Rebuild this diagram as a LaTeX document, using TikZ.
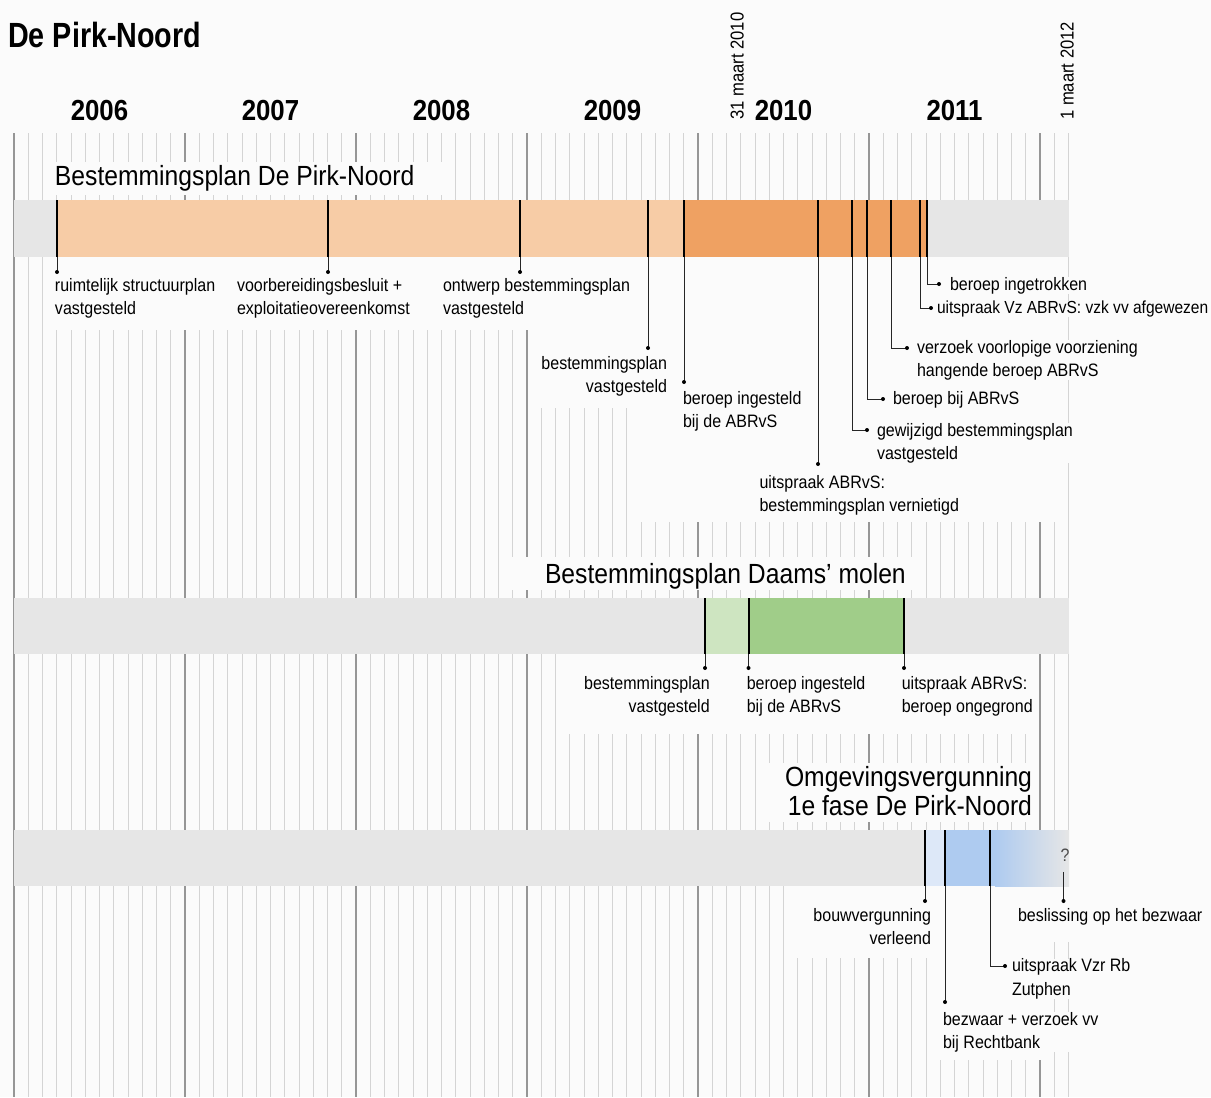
\documentclass[tikz,border=0pt]{standalone}
\usepackage{fontspec}
\setmainfont{Liberation Sans}[FakeStretch=0.89]
\newfontfamily\headfont{Liberation Sans}[FakeStretch=0.82]
\usepackage{xcolor}
\usepackage{tikz}
\usetikzlibrary{calc,positioning}

\definecolor{paper}{RGB}{251,251,251}
\definecolor{bargrey}{RGB}{230,230,230}
\definecolor{monthgrey}{RGB}{212,212,212}
\definecolor{yeargrey}{RGB}{150,150,150}
\definecolor{orangelight}{RGB}{247,204,166}
\definecolor{orangedark}{RGB}{239,161,98}
\definecolor{greenlight}{RGB}{206,229,193}
\definecolor{greendark}{RGB}{160,205,137}
\definecolor{bluelight}{RGB}{221,232,248}
\definecolor{bluedark}{RGB}{174,203,240}

\begin{document}
\begin{tikzpicture}[x=0.75pt,y=0.75pt,yscale=-1,xscale=1,
  monthline/.style={draw=monthgrey,line width=0.75pt},
  yearline/.style={draw=yeargrey,line width=1.1pt},
  tick/.style={draw=black,line width=1.5pt},
  leader/.style={draw=black!85,line width=0.6pt},
  evlabel/.style={inner sep=0pt,outer sep=0pt,fill=paper,align=left,font=\fontsize{13.5}{17.6}\selectfont},
  bartitle/.style={inner sep=0pt,outer sep=0pt,fill=paper,font=\fontsize{20.8}{22}\selectfont},
  yearlabel/.style={anchor=base,inner sep=0pt,font=\fontsize{21.75}{24}\selectfont\bfseries},
  datelabel/.style={anchor=base west,rotate=90,inner sep=0pt,font=\fontsize{14}{16}\selectfont}]
\useasboundingbox (0,0) rectangle (1211,1097);
\fill[paper] (0,0) rectangle (1211,1097);

%Grid: one line per month, darker per year
\foreach \m in {0,...,74} {
  \draw[monthline] ({14+14.25*\m},133) -- ({14+14.25*\m},1097);
}
\foreach \m in {0,12,...,72} {
  \draw[yearline] ({14+14.25*\m},133) -- ({14+14.25*\m},1097);
}

%Masks behind titles and labels
\fill[paper] (45,162) rectangle (445,195);
\fill[paper] (49,257) rectangle (1066,330);
\fill[paper] (535,330) rectangle (641,408);
\fill[paper] (641,330) rectangle (1066,522);
\fill[paper] (510,557) rectangle (912,590);
\fill[paper] (557,654) rectangle (1036,734);
\fill[paper] (768,763) rectangle (1037,822);
\fill[paper] (792,886) rectangle (940,958);
\fill[paper] (940,886) rectangle (1050,1060);
\fill[paper] (1050,886) rectangle (1070,942);

% Text Node
\node[anchor=base west,inner sep=0pt,font=\headfont\bfseries\fontsize{26.25}{30}\selectfont] (heading) at (8,47) {De Pirk-Noord};
% Text Node
\node[yearlabel] (y2006) at (99.5,120) {2006};
\node[yearlabel] (y2007) at (270.5,120) {2007};
\node[yearlabel] (y2008) at (441.5,120) {2008};
\node[yearlabel] (y2009) at (612.5,120) {2009};
\node[yearlabel] (y2010) at (783.5,120) {2010};
\node[yearlabel] (y2011) at (954.5,120) {2011};
\node[datelabel] (d2010) at (743.5,120) {31 maart 2010};
\node[datelabel] (d2012) at (1073.5,120) {1 maart 2012};

%Bar: Bestemmingsplan De Pirk-Noord
\node[bartitle,anchor=base west] (title1) at (55,185) {Bestemmingsplan De Pirk-Noord};
\fill[bargrey] (14,200) rectangle (1069,257);
\fill[orangelight] (57,200) rectangle (684,257);
\fill[orangedark] (684,200) rectangle (927,257);

\coordinate (ruimte) at (57,257);   \coordinate (ruimtedot) at (57,272);
\coordinate (voorb) at (328,257);   \coordinate (voorbdot) at (328,272);
\coordinate (ontw) at (520,257);    \coordinate (ontwdot) at (520,272);
\coordinate (vastg) at (648,257);   \coordinate (vastgdot) at (648,348);
\coordinate (ingest) at (684,257);  \coordinate (ingestdot) at (684,382);
\coordinate (vernie) at (818,257);  \coordinate (verniedot) at (818,464);
\coordinate (gewijz) at (852,257);  \coordinate (gewijzdot) at (867,430);
\coordinate (bijabr) at (867,257);  \coordinate (bijabrdot) at (883,399);
\coordinate (verzoek) at (891,257); \coordinate (verzoekdot) at (907,348);
\coordinate (vzabr) at (920,257);   \coordinate (vzabrdot) at (931,308);
\coordinate (ingetr) at (927,257);  \coordinate (ingetrdot) at (939,284);

%Straight Lines
\foreach \c in {ruimte,voorb,ontw,vastg,ingest,vernie,gewijz,bijabr,verzoek,vzabr,ingetr} {
  \draw[tick] (\c) -- ++(0,-57);
}
\foreach \c in {ruimte,voorb,ontw,vastg,ingest,vernie} {
  \draw[leader] (\c) -- (\c dot);
  \fill (\c dot) circle (1.5pt);
}
\foreach \c in {gewijz,bijabr,verzoek,vzabr,ingetr} {
  \draw[leader] (\c) |- (\c dot);
  \fill (\c dot) circle (1.5pt);
}

% Text Node
\node[evlabel,anchor=north west] (ruimtelbl) at (55,278) {ruimtelijk structuurplan\\vastgesteld};
\node[evlabel,anchor=north west] (voorblbl) at (237,278) {voorbereidingsbesluit +\\exploitatieovereenkomst};
\node[evlabel,anchor=north west] (ontwlbl) at (443,278) {ontwerp bestemmingsplan\\vastgesteld};
\node[evlabel,anchor=north east,align=right] (vastglbl) at (667,356) {bestemmingsplan\\vastgesteld};
\node[evlabel,anchor=north west] (ingestlbl) at (683,391) {beroep ingesteld\\bij de ABRvS};
\node[evlabel,anchor=north west] (vernielbl) at (759.5,475) {uitspraak ABRvS:\\bestemmingsplan vernietigd};
\node[evlabel,anchor=north west] (gewijzlbl) at (877,423) {gewijzigd bestemmingsplan\\vastgesteld};
\node[evlabel,anchor=north west] (bijabrlbl) at (893,391) {beroep bij ABRvS};
\node[evlabel,anchor=north west] (verzoeklbl) at (917,340) {verzoek voorlopige voorziening\\hangende beroep ABRvS};
\node[evlabel,anchor=north west,font=\fontsize{13.1}{17.6}\selectfont] (vzabrlbl) at (937,301) {uitspraak Vz ABRvS: vzk vv afgewezen};
\node[evlabel,anchor=north west] (ingetrlbl) at (950,277) {beroep ingetrokken};

%Bar: Bestemmingsplan Daams' molen
\node[bartitle,anchor=base west] (title2) at (545,583) {Bestemmingsplan Daams’ molen};
\fill[bargrey] (14,598) rectangle (1069,654);
\fill[greenlight] (705,598) rectangle (748.5,654);
\fill[greendark] (748.5,598) rectangle (904,654);

\coordinate (dmvastg) at (705,654);   \coordinate (dmvastgdot) at (705,668);
\coordinate (dmingest) at (748.5,654); \coordinate (dmingestdot) at (748.5,668);
\coordinate (dmuitspr) at (904,654);  \coordinate (dmuitsprdot) at (904,668);

%Straight Lines
\foreach \c in {dmvastg,dmingest,dmuitspr} {
  \draw[tick] (\c) -- ++(0,-56);
  \draw[leader] (\c) -- (\c dot);
  \fill (\c dot) circle (1.5pt);
}

% Text Node
\node[evlabel,anchor=north east,align=right] (dmvastglbl) at (709.7,676) {bestemmingsplan\\vastgesteld};
\node[evlabel,anchor=north west] (dmingestlbl) at (746.8,676) {beroep ingesteld\\bij de ABRvS};
\node[evlabel,anchor=north west] (dmuitsprlbl) at (901.8,676) {uitspraak ABRvS:\\beroep ongegrond};

%Bar: Omgevingsvergunning
\node[bartitle,anchor=north east,align=right] (title3) at (1032,766) {Omgevingsvergunning\\1e fase De Pirk-Noord};
\fill[bargrey] (14,830) rectangle (1069,886);
\fill[bluelight] (925,830) rectangle (945,886);
\fill[bluedark] (945,830) rectangle (995,886);
\shade[left color=bluedark,right color=bargrey] (995,830) rectangle (1069,886);

\coordinate (bouwv) at (925,886);  \coordinate (bouwvdot) at (925,901);
\coordinate (bezw) at (945,886);   \coordinate (bezwdot) at (945,1002);
\coordinate (vzrrb) at (990,886);  \coordinate (vzrrbdot) at (1005,966);

% Text Node
\node[anchor=base,inner sep=0pt,text=black!70,font=\fontsize{13.5}{16}\selectfont] (vraag) at (1065,861.5) {?};
\coordinate (beslisdot) at (1063.5,901);

%Straight Lines
\foreach \c in {bouwv,bezw,vzrrb} {
  \draw[tick] (\c) -- ++(0,-56);
}
\draw[leader] (bouwv) -- (bouwvdot);
\draw[leader] (bezw) -- (bezwdot);
\draw[leader] (vzrrb) |- (vzrrbdot);
\draw[leader] (vraag.south) ++(-1.5,10) -- (beslisdot);
\foreach \c in {bouwvdot,bezwdot,vzrrbdot,beslisdot} {
  \fill (\c) circle (1.5pt);
}

% Text Node
\node[evlabel,anchor=north east,align=right] (bouwvlbl) at (931,908) {bouwvergunning\\verleend};
\node[evlabel,anchor=north west] (beslislbl) at (1018,908) {beslissing op het bezwaar};
\node[evlabel,anchor=north west] (vzrrblbl) at (1012,958.5) {uitspraak Vzr Rb\\Zutphen};
\node[evlabel,anchor=north west] (bezwlbl) at (943,1012) {bezwaar + verzoek vv\\bij Rechtbank};

\end{tikzpicture}
\end{document}
